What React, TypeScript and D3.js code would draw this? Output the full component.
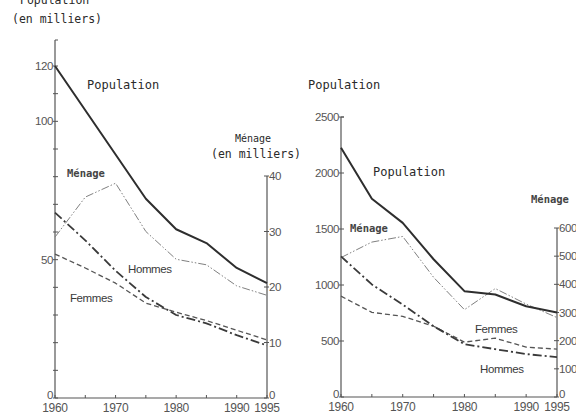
import React from "react";
import * as d3 from "d3";

// years shared by both panels
const years = [1960, 1965, 1970, 1975, 1980, 1985, 1990, 1995];
const yearLabels = [1960, 1970, 1980, 1990, 1995];

// left panel (population in thousands, ménage right axis)
const popA = [120, 104, 88, 72, 61, 56, 47, 41.5];
const menageA = [29, 36.2, 38.7, 30, 25, 24, 20.2, 18.5];
const hommesA = [67, 57, 46, 36.5, 30, 27, 22.7, 19];
const femmesA = [52, 47, 41.5, 34.3, 31, 28, 24.5, 21];
const leftTicksA = d3.range(0, 121, 10);
const leftLabelsA = [0, 50, 100, 120];
const rightTicksA = [0, 10, 20, 30, 40];

// right panel
const popB = [2225, 1770, 1555, 1230, 945, 915, 810, 755];
const menageB = [495, 550, 570, 425, 310, 385, 330, 282];
const hommesB = [1255, 1005, 825, 632, 472, 427, 383, 356];
const femmesB = [900, 756, 720, 632, 490, 525, 445, 427];
const leftTicksB = [0, 500, 1000, 1500, 2000, 2500];
const rightTicksB = [0, 100, 200, 300, 400, 500, 600];

const mono = "'DejaVu Sans Mono', 'Liberation Mono', monospace";
const sans = "'Liberation Sans', Arial, sans-serif";
const narrow = "'Liberation Sans Narrow', 'Liberation Sans', Arial, sans-serif";

const styles = {
  pop: { stroke: "#2e2e2e", width: 2, dash: undefined as string | undefined },
  hommes: { stroke: "#3a3a3a", width: 1.8, dash: "9,3,2,3" },
  femmes: { stroke: "#555", width: 1.3, dash: "5,3" },
  menage: { stroke: "#808080", width: 1, dash: "8,2,1.5,2,1.5,2" },
};

type Series = { values: number[]; axis: "L" | "R"; style: keyof typeof styles };

type PanelProps = {
  x0: number;
  x1: number;
  base: number;
  leftMax: number;
  leftTop: number;
  axisTop: number;
  rightMax: number;
  rightTop: number;
  leftTicks: number[];
  leftLabels: number[];
  rightTicks: number[];
  series: Series[];
};

function Panel(p: PanelProps) {
  const x = d3.scaleLinear().domain([1960, 1995]).range([p.x0, p.x1]);
  const yL = d3.scaleLinear().domain([0, p.leftMax]).range([p.base, p.leftTop]);
  const yR = d3.scaleLinear().domain([0, p.rightMax]).range([p.base, p.rightTop]);
  const axisC = "#555";
  const labC = "#555";

  return (
    <g>
      {/* axes */}
      <line x1={p.x0} x2={p.x0} y1={p.base} y2={p.axisTop} stroke={axisC} strokeWidth={1.2} />
      <line x1={p.x0} x2={p.x0 + 3} y1={p.axisTop} y2={p.axisTop} stroke={axisC} />
      <line x1={p.x1} x2={p.x1} y1={p.base} y2={p.rightTop} stroke={axisC} strokeWidth={1.2} />
      <line x1={p.x0} x2={p.x1} y1={p.base} y2={p.base} stroke={axisC} strokeWidth={1.2} />

      {p.leftTicks.map((t) => (
        <line key={"lt" + t} x1={p.x0 - 2} x2={p.x0 + 3} y1={yL(t)} y2={yL(t)} stroke={axisC} />
      ))}
      {p.leftLabels.map((t) => (
        <text key={"ll" + t} x={p.x0 - 2} y={yL(t) + (t === 0 ? 1 : 4)} textAnchor="end" fontFamily={sans}
          fontSize={11.5} fill={labC} letterSpacing={-0.4}>{t}</text>
      ))}
      {p.rightTicks.map((t) => (
        <g key={"rt" + t}>
          <line x1={p.x1 - 3} x2={p.x1 + 2} y1={yR(t)} y2={yR(t)} stroke={axisC} />
          <text x={p.x1 + 2} y={yR(t) + (t === 0 ? 1 : 4)} fontFamily={sans} fontSize={11.5} fill={labC}
            letterSpacing={-0.4}>{t}</text>
        </g>
      ))}
      {years.map((yr) => (
        <line key={"xt" + yr} x1={x(yr)} x2={x(yr)} y1={p.base} y2={p.base - 3} stroke={axisC} />
      ))}
      {yearLabels.map((yr) => (
        <text key={"xl" + yr} x={x(yr)} y={p.base + 14} textAnchor="middle" fontFamily={narrow}
          fontSize={12} fill={labC} letterSpacing={-0.3}>{yr}</text>
      ))}

      {/* lines */}
      {p.series.map((s, i) => {
        const ys = s.axis === "L" ? yL : yR;
        const st = styles[s.style];
        const path = d3
          .line<number>()
          .x((_, j) => x(years[j]))
          .y((v) => ys(v))(s.values);
        return (
          <path key={i} d={path || ""} fill="none" stroke={st.stroke} strokeWidth={st.width}
            strokeDasharray={st.dash} strokeLinejoin="round" />
        );
      })}
    </g>
  );
}

export default function App() {
  const seriesA: Series[] = [
    { values: menageA, axis: "R", style: "menage" },
    { values: femmesA, axis: "L", style: "femmes" },
    { values: hommesA, axis: "L", style: "hommes" },
    { values: popA, axis: "L", style: "pop" },
  ];
  const seriesB: Series[] = [
    { values: menageB, axis: "R", style: "menage" },
    { values: femmesB, axis: "L", style: "femmes" },
    { values: hommesB, axis: "L", style: "hommes" },
    { values: popB, axis: "L", style: "pop" },
  ];
  const txt = "#2a2a2a";

  return (
    <svg width={576} height={414} style={{ position: "absolute", left: 0, top: 0, background: "#fff" }}>
      <rect width={576} height={414} fill="#fff" />
      <Panel x0={55} x1={267} base={398} leftMax={120} leftTop={66} axisTop={40}
        rightMax={40} rightTop={176} leftTicks={leftTicksA} leftLabels={leftLabelsA}
        rightTicks={rightTicksA} series={seriesA} />
      <Panel x0={341} x1={557} base={397} leftMax={2500} leftTop={117} axisTop={117}
        rightMax={600} rightTop={228} leftTicks={leftTicksB} leftLabels={leftTicksB}
        rightTicks={rightTicksB} series={seriesB} />

      {/* left panel titles */}
      <text x={20} y={4} fontFamily={mono} fontSize={11.5} fill={txt}>Population</text>
      <text x={12} y={23} fontFamily={mono} fontSize={11.5} fill={txt}>(en milliers)</text>
      <text x={235} y={142} fontFamily={mono} fontSize={10} fill={txt}>Ménage</text>
      <text x={211} y={158} fontFamily={mono} fontSize={11.5} fill={txt}>(en milliers)</text>
      <text x={87} y={89} fontFamily={mono} fontSize={12} fill={txt}>Population</text>
      <text x={67} y={177} fontFamily={mono} fontSize={10.5} fontWeight="bold" fill="#444">Ménage</text>
      <text x={128} y={273} fontFamily={sans} fontSize={11.5} fill="#3a3a3a" letterSpacing={-0.4}>Hommes</text>
      <text x={70} y={302} fontFamily={sans} fontSize={11.5} fill="#3a3a3a" letterSpacing={-0.4}>Femmes</text>

      {/* right panel titles */}
      <text x={308} y={89} fontFamily={mono} fontSize={12} fill={txt}>Population</text>
      <text x={373} y={176} fontFamily={mono} fontSize={12} fill={txt}>Population</text>
      <text x={350} y={232} fontFamily={mono} fontSize={10.5} fontWeight="bold" fill="#444">Ménage</text>
      <text x={531} y={203} fontFamily={mono} fontSize={10.5} fontWeight="bold" fill="#444">Ménage</text>
      <text x={475} y={333} fontFamily={sans} fontSize={11.5} fill="#3a3a3a" letterSpacing={-0.4}>Femmes</text>
      <text x={480} y={373} fontFamily={sans} fontSize={11.5} fill="#3a3a3a" letterSpacing={-0.4}>Hommes</text>
    </svg>
  );
}
